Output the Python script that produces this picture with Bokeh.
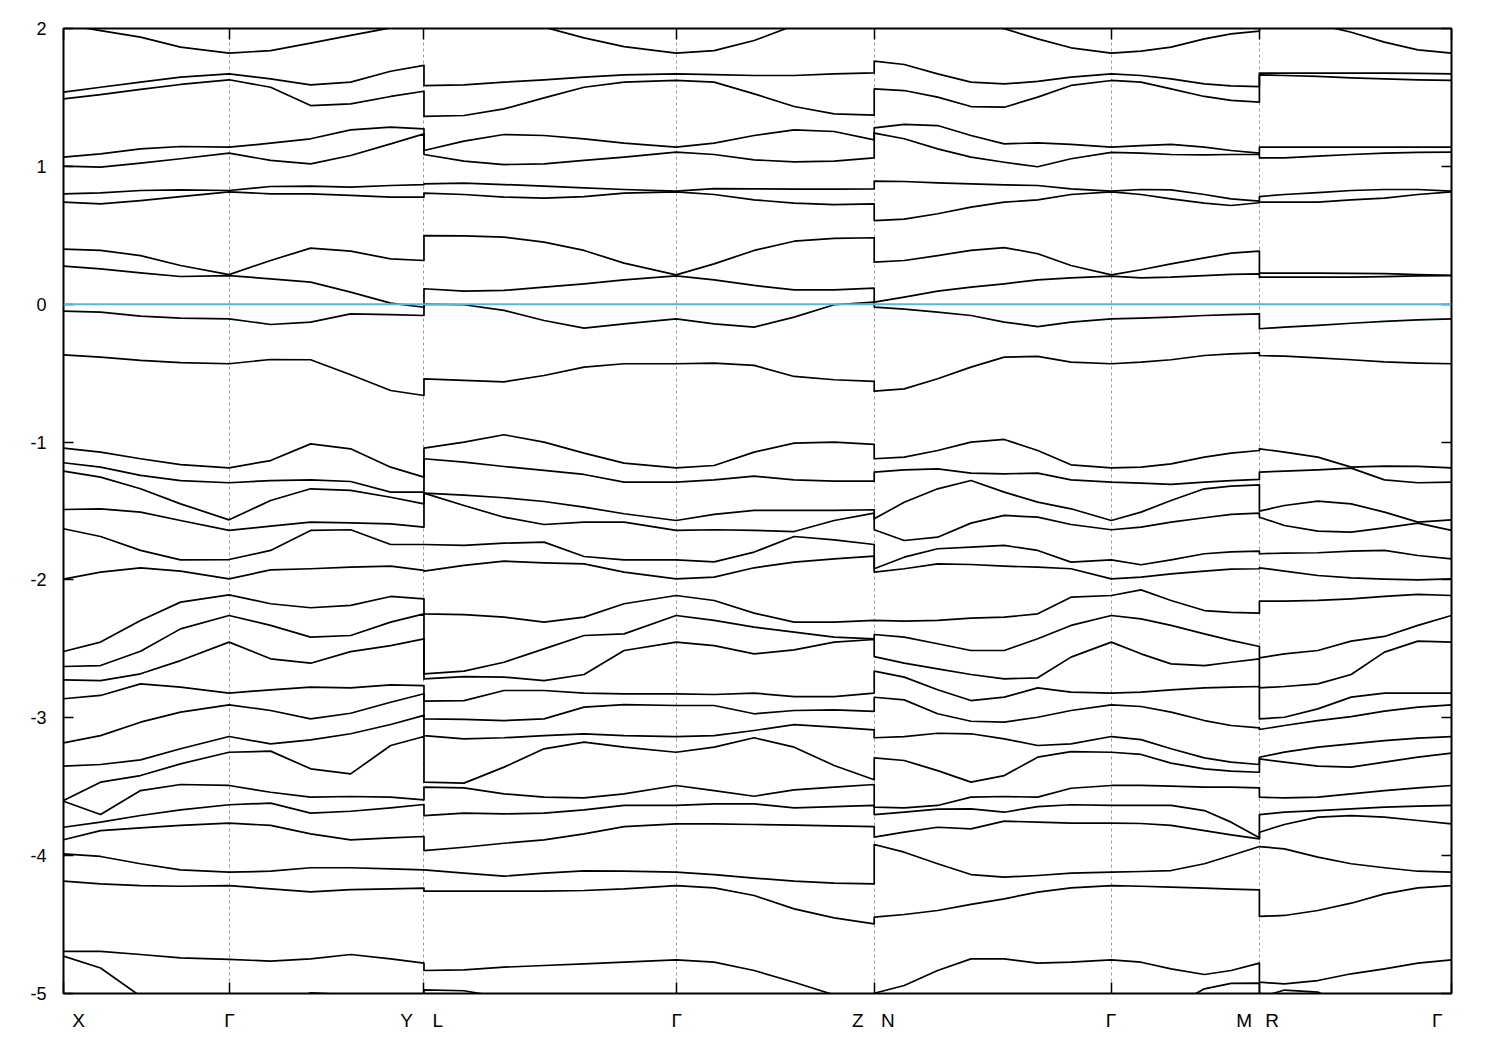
from bokeh.plotting import figure
from bokeh.models import Range1d, LinearAxis, FixedTicker, Grid, Span
from bokeh.embed import file_html
from bokeh.resources import INLINE

# ---- k-path ----
kpoints = [0, 165.5, 360.3, 612.3, 810.3, 1047.3, 1195.3, 1387.3]
klabel_names = ["X", "Γ", "Y", "L", "Γ", "Z", "N", "Γ", "M", "R", "Γ"]
klabel_pos = [15, 166, 343, 374, 613, 794, 824, 1047, 1180, 1208, 1373]
yticks = [-5, -4, -3, -2, -1, 0, 1, 2]
ytick_labels = ["-5", "-4", "-3", "-2", "-1", "0", "1", "2"]
fermi = 0.0

# ---- sample positions along each segment ----
x_XGY = [0, 37, 77, 117, 165.5, 207, 247, 287, 327, 360.3]
x_LGZ = [360.3, 400.3, 440.3, 480.3, 520.3, 560.3, 612.3, 650.3, 690.3, 730.3, 770.3, 810.3]
x_NGM = [810.3, 840.3, 873.7, 907, 940.3, 973.7, 1007, 1047.3, 1077, 1107, 1140.3, 1167, 1195.3]
x_RG = [1195.3, 1220.3, 1253.7, 1287, 1320.3, 1353.7, 1387.3]

# ---- band energies (eV), band index from top ----
bands_XGY = [
    [2.03, 1.985, 1.937, 1.865, 1.821, 1.84, 1.894, 1.95, 2.005, 2.05],
    [1.538, 1.574, 1.611, 1.647, 1.671, 1.635, 1.591, 1.611, 1.69, 1.732],
    [1.49, 1.521, 1.558, 1.594, 1.628, 1.574, 1.441, 1.453, 1.507, 1.545],
    [1.067, 1.091, 1.127, 1.144, 1.139, 1.168, 1.2, 1.265, 1.284, 1.272],
    [1.001, 0.994, 1.023, 1.055, 1.096, 1.043, 1.018, 1.079, 1.163, 1.236],
    [0.801, 0.808, 0.825, 0.83, 0.825, 0.854, 0.856, 0.849, 0.861, 0.868],
    [0.74, 0.728, 0.752, 0.781, 0.815, 0.801, 0.801, 0.789, 0.777, 0.777],
    [0.399, 0.39, 0.353, 0.281, 0.215, 0.317, 0.407, 0.385, 0.329, 0.317],
    [0.276, 0.257, 0.228, 0.201, 0.208, 0.184, 0.16, 0.088, 0.008, -0.022],
    [-0.05, -0.058, -0.087, -0.101, -0.106, -0.147, -0.13, -0.07, -0.075, -0.082],
    [-0.367, -0.384, -0.408, -0.423, -0.432, -0.401, -0.403, -0.512, -0.626, -0.662],
    [-1.044, -1.073, -1.121, -1.163, -1.187, -1.134, -1.013, -1.049, -1.182, -1.254],
    [-1.15, -1.182, -1.242, -1.279, -1.295, -1.279, -1.274, -1.286, -1.363, -1.363],
    [-1.211, -1.254, -1.339, -1.448, -1.564, -1.424, -1.339, -1.351, -1.4, -1.448],
    [-1.489, -1.484, -1.508, -1.569, -1.641, -1.61, -1.581, -1.586, -1.593, -1.617],
    [-1.629, -1.685, -1.786, -1.854, -1.852, -1.786, -1.641, -1.636, -1.743, -1.743],
    [-1.994, -1.943, -1.912, -1.936, -1.992, -1.927, -1.919, -1.907, -1.9, -1.931],
    [-2.519, -2.451, -2.294, -2.161, -2.108, -2.173, -2.202, -2.185, -2.12, -2.137],
    [-2.628, -2.621, -2.517, -2.355, -2.258, -2.33, -2.415, -2.403, -2.306, -2.246],
    [-2.725, -2.73, -2.681, -2.585, -2.451, -2.572, -2.604, -2.52, -2.476, -2.427],
    [-2.862, -2.838, -2.754, -2.778, -2.821, -2.797, -2.778, -2.783, -2.761, -2.766],
    [-3.182, -3.129, -3.032, -2.959, -2.906, -2.947, -3.008, -2.967, -2.887, -2.826],
    [-3.351, -3.339, -3.305, -3.225, -3.136, -3.189, -3.16, -3.116, -3.049, -2.983],
    [-3.6, -3.467, -3.419, -3.334, -3.25, -3.242, -3.37, -3.407, -3.201, -3.136],
    [-3.605, -3.702, -3.528, -3.484, -3.491, -3.54, -3.576, -3.571, -3.576, -3.595],
    [-3.794, -3.757, -3.709, -3.668, -3.631, -3.619, -3.692, -3.678, -3.653, -3.629],
    [-3.885, -3.818, -3.798, -3.781, -3.764, -3.781, -3.842, -3.885, -3.871, -3.861],
    [-3.987, -4.006, -4.059, -4.103, -4.12, -4.113, -4.088, -4.088, -4.096, -4.103],
    [-4.185, -4.205, -4.217, -4.222, -4.217, -4.241, -4.263, -4.246, -4.241, -4.236],
    [-4.695, -4.695, -4.717, -4.741, -4.753, -4.765, -4.749, -4.717, -4.749, -4.78],
    [-4.729, -4.815, -5.02, -5.1, -5.15, -5.1, -4.995, -5.01, -5.05, -5.03],
]

bands_LGZ = [
    [2.15, 2.1, 2.06, 2.01, 1.932, 1.869, 1.821, 1.84, 1.913, 2.022, 2.07, 2.1],
    [1.586, 1.591, 1.611, 1.628, 1.647, 1.664, 1.671, 1.666, 1.659, 1.659, 1.671, 1.678],
    [1.362, 1.369, 1.417, 1.497, 1.574, 1.611, 1.623, 1.611, 1.526, 1.434, 1.381, 1.371],
    [1.115, 1.183, 1.231, 1.224, 1.2, 1.168, 1.139, 1.168, 1.224, 1.265, 1.253, 1.192],
    [1.086, 1.038, 1.013, 1.018, 1.043, 1.067, 1.103, 1.086, 1.047, 1.033, 1.038, 1.062],
    [0.873, 0.878, 0.868, 0.856, 0.844, 0.832, 0.82, 0.839, 0.837, 0.835, 0.835, 0.837],
    [0.806, 0.796, 0.777, 0.769, 0.781, 0.806, 0.815, 0.796, 0.757, 0.733, 0.723, 0.728],
    [0.498, 0.496, 0.487, 0.45, 0.39, 0.298, 0.213, 0.293, 0.39, 0.457, 0.477, 0.482],
    [0.112, 0.095, 0.1, 0.124, 0.148, 0.177, 0.205, 0.177, 0.136, 0.104, 0.104, 0.117],
    [0.0, -0.004, -0.045, -0.118, -0.174, -0.142, -0.106, -0.142, -0.166, -0.094, -0.004, 0.015],
    [-0.541, -0.553, -0.563, -0.517, -0.456, -0.432, -0.432, -0.428, -0.444, -0.524, -0.548, -0.56],
    [-1.044, -1.0, -0.947, -1.0, -1.08, -1.153, -1.187, -1.17, -1.073, -1.008, -1.0, -1.017],
    [-1.121, -1.146, -1.177, -1.206, -1.235, -1.291, -1.291, -1.274, -1.247, -1.274, -1.283, -1.283],
    [-1.37, -1.385, -1.404, -1.431, -1.472, -1.52, -1.569, -1.525, -1.496, -1.496, -1.496, -1.491],
    [-1.37, -1.46, -1.545, -1.598, -1.581, -1.581, -1.641, -1.636, -1.641, -1.649, -1.569, -1.516],
    [-1.743, -1.75, -1.733, -1.726, -1.83, -1.854, -1.854, -1.869, -1.798, -1.685, -1.709, -1.743],
    [-1.936, -1.895, -1.864, -1.876, -1.883, -1.943, -1.992, -1.98, -1.912, -1.871, -1.847, -1.827],
    [-2.246, -2.251, -2.27, -2.306, -2.27, -2.173, -2.113, -2.149, -2.241, -2.306, -2.306, -2.294],
    [-2.681, -2.662, -2.597, -2.5, -2.403, -2.391, -2.258, -2.294, -2.342, -2.379, -2.415, -2.427],
    [-2.718, -2.701, -2.705, -2.73, -2.686, -2.512, -2.451, -2.476, -2.536, -2.507, -2.451, -2.432],
    [-2.879, -2.875, -2.802, -2.802, -2.821, -2.826, -2.826, -2.831, -2.821, -2.846, -2.846, -2.821],
    [-3.008, -3.012, -3.02, -3.008, -2.923, -2.904, -2.911, -2.911, -2.971, -2.947, -2.942, -2.954],
    [-3.129, -3.153, -3.145, -3.129, -3.116, -3.129, -3.136, -3.129, -3.092, -3.049, -3.068, -3.087],
    [-3.467, -3.474, -3.358, -3.225, -3.177, -3.213, -3.25, -3.213, -3.145, -3.213, -3.346, -3.45],
    [-3.503, -3.508, -3.552, -3.576, -3.581, -3.552, -3.491, -3.528, -3.569, -3.523, -3.503, -3.484],
    [-3.709, -3.692, -3.697, -3.692, -3.668, -3.636, -3.636, -3.624, -3.624, -3.653, -3.644, -3.636],
    [-3.963, -3.939, -3.91, -3.886, -3.842, -3.789, -3.769, -3.769, -3.774, -3.779, -3.784, -3.789],
    [-4.103, -4.127, -4.149, -4.127, -4.11, -4.113, -4.12, -4.137, -4.163, -4.185, -4.2, -4.205],
    [-4.258, -4.258, -4.258, -4.258, -4.253, -4.241, -4.217, -4.234, -4.289, -4.386, -4.451, -4.495],
    [-4.833, -4.828, -4.809, -4.797, -4.785, -4.773, -4.756, -4.773, -4.833, -4.918, -5.01, -5.04],
    [-4.973, -4.98, -5.03, -5.1, -5.1, -5.1, -5.1, -5.1, -5.1, -5.1, -5.1, -5.1],
]

bands_NGM = [
    [2.15, 2.1, 2.07, 2.04, 1.998, 1.925, 1.86, 1.821, 1.836, 1.865, 1.925, 1.961, 1.981],
    [1.763, 1.739, 1.671, 1.611, 1.598, 1.616, 1.647, 1.671, 1.659, 1.635, 1.598, 1.584, 1.579],
    [1.562, 1.55, 1.502, 1.434, 1.429, 1.502, 1.587, 1.623, 1.611, 1.562, 1.507, 1.478, 1.466],
    [1.279, 1.304, 1.296, 1.224, 1.163, 1.171, 1.159, 1.139, 1.151, 1.159, 1.139, 1.115, 1.096],
    [1.241, 1.2, 1.127, 1.067, 1.03, 0.997, 1.055, 1.101, 1.096, 1.086, 1.084, 1.086, 1.086],
    [0.893, 0.89, 0.88, 0.873, 0.866, 0.861, 0.837, 0.82, 0.832, 0.83, 0.796, 0.764, 0.748],
    [0.607, 0.617, 0.656, 0.704, 0.74, 0.757, 0.796, 0.815, 0.796, 0.764, 0.733, 0.716, 0.736],
    [0.305, 0.317, 0.353, 0.39, 0.411, 0.366, 0.281, 0.213, 0.25, 0.293, 0.336, 0.37, 0.385],
    [0.015, 0.051, 0.095, 0.124, 0.148, 0.177, 0.191, 0.204, 0.191, 0.196, 0.208, 0.216, 0.22],
    [-0.021, -0.036, -0.058, -0.082, -0.13, -0.162, -0.13, -0.106, -0.101, -0.094, -0.082, -0.075, -0.07],
    [-0.631, -0.614, -0.541, -0.456, -0.384, -0.379, -0.42, -0.432, -0.42, -0.403, -0.372, -0.36, -0.353],
    [-1.121, -1.109, -1.061, -1.0, -0.981, -1.061, -1.165, -1.187, -1.182, -1.158, -1.109, -1.08, -1.061],
    [-1.218, -1.201, -1.194, -1.225, -1.23, -1.225, -1.274, -1.291, -1.298, -1.307, -1.291, -1.279, -1.271],
    [-1.557, -1.436, -1.339, -1.279, -1.363, -1.436, -1.484, -1.569, -1.508, -1.424, -1.339, -1.32, -1.31],
    [-1.636, -1.714, -1.69, -1.588, -1.532, -1.545, -1.598, -1.636, -1.617, -1.581, -1.549, -1.525, -1.516],
    [-1.919, -1.835, -1.774, -1.762, -1.75, -1.786, -1.871, -1.854, -1.89, -1.854, -1.81, -1.796, -1.791],
    [-1.943, -1.919, -1.883, -1.888, -1.9, -1.907, -1.919, -1.992, -1.98, -1.956, -1.936, -1.922, -1.919],
    [-2.294, -2.299, -2.294, -2.277, -2.27, -2.246, -2.125, -2.113, -2.072, -2.149, -2.222, -2.236, -2.241],
    [-2.396, -2.415, -2.463, -2.512, -2.512, -2.427, -2.33, -2.258, -2.282, -2.33, -2.391, -2.439, -2.483],
    [-2.556, -2.604, -2.645, -2.686, -2.718, -2.71, -2.56, -2.451, -2.536, -2.609, -2.621, -2.597, -2.572],
    [-2.662, -2.705, -2.797, -2.875, -2.85, -2.783, -2.814, -2.821, -2.814, -2.797, -2.783, -2.778, -2.773],
    [-2.851, -2.87, -2.971, -3.025, -3.032, -2.996, -2.947, -2.906, -2.918, -2.959, -3.02, -3.056, -3.073],
    [-3.145, -3.136, -3.112, -3.116, -3.153, -3.201, -3.189, -3.136, -3.158, -3.225, -3.291, -3.322, -3.339],
    [-3.291, -3.31, -3.383, -3.467, -3.419, -3.286, -3.245, -3.25, -3.266, -3.329, -3.37, -3.387, -3.395],
    [-3.648, -3.653, -3.636, -3.576, -3.571, -3.576, -3.511, -3.491, -3.491, -3.496, -3.503, -3.503, -3.508],
    [-3.702, -3.685, -3.663, -3.661, -3.685, -3.644, -3.631, -3.636, -3.636, -3.636, -3.673, -3.757, -3.871],
    [-3.866, -3.83, -3.794, -3.806, -3.75, -3.757, -3.764, -3.764, -3.767, -3.781, -3.818, -3.849, -3.878],
    [-3.919, -3.975, -4.059, -4.137, -4.156, -4.144, -4.127, -4.12, -4.115, -4.108, -4.059, -3.999, -3.934],
    [-4.446, -4.427, -4.398, -4.354, -4.313, -4.265, -4.234, -4.217, -4.222, -4.229, -4.236, -4.243, -4.248],
    [-4.998, -4.942, -4.833, -4.749, -4.749, -4.78, -4.773, -4.756, -4.773, -4.821, -4.862, -4.833, -4.78],
    [-5.05, -5.1, -5.1, -5.1, -5.1, -5.1, -5.1, -5.1, -5.1, -5.1, -4.966, -4.927, -4.925],
]

bands_RG = [
    [2.2, 2.1, 2.03, 1.973, 1.901, 1.845, 1.821],
    [1.676, 1.676, 1.676, 1.676, 1.676, 1.674, 1.671],
    [1.664, 1.659, 1.652, 1.642, 1.635, 1.628, 1.623],
    [1.139, 1.139, 1.139, 1.139, 1.139, 1.139, 1.139],
    [1.062, 1.062, 1.074, 1.086, 1.096, 1.101, 1.103],
    [0.781, 0.796, 0.81, 0.825, 0.832, 0.832, 0.82],
    [0.74, 0.74, 0.74, 0.757, 0.769, 0.796, 0.815],
    [0.225, 0.225, 0.225, 0.224, 0.222, 0.215, 0.21],
    [0.196, 0.196, 0.196, 0.196, 0.2, 0.205, 0.207],
    [-0.178, -0.166, -0.154, -0.138, -0.125, -0.113, -0.106],
    [-0.372, -0.377, -0.389, -0.403, -0.418, -0.427, -0.432],
    [-1.049, -1.073, -1.109, -1.182, -1.175, -1.177, -1.187],
    [-1.218, -1.211, -1.201, -1.189, -1.274, -1.295, -1.291],
    [-1.501, -1.46, -1.428, -1.448, -1.508, -1.581, -1.564],
    [-1.545, -1.605, -1.646, -1.653, -1.622, -1.588, -1.641],
    [-1.81, -1.806, -1.803, -1.791, -1.786, -1.823, -1.847],
    [-1.912, -1.936, -1.968, -1.985, -1.994, -1.999, -1.992],
    [-2.154, -2.154, -2.149, -2.137, -2.12, -2.105, -2.113],
    [-2.565, -2.536, -2.512, -2.444, -2.41, -2.33, -2.258],
    [-2.783, -2.773, -2.754, -2.686, -2.524, -2.444, -2.451],
    [-3.008, -2.996, -2.935, -2.85, -2.821, -2.821, -2.821],
    [-3.085, -3.056, -3.02, -2.991, -2.952, -2.923, -2.906],
    [-3.286, -3.249, -3.213, -3.189, -3.165, -3.148, -3.136],
    [-3.298, -3.322, -3.351, -3.358, -3.322, -3.286, -3.257],
    [-3.576, -3.581, -3.576, -3.552, -3.528, -3.508, -3.491],
    [-3.702, -3.685, -3.673, -3.661, -3.648, -3.641, -3.636],
    [-3.83, -3.774, -3.721, -3.709, -3.721, -3.745, -3.769],
    [-3.934, -3.951, -4.011, -4.059, -4.088, -4.113, -4.12],
    [-4.441, -4.434, -4.398, -4.345, -4.277, -4.234, -4.217],
    [-4.918, -4.93, -4.906, -4.857, -4.821, -4.78, -4.756],
    [-5.03, -4.975, -4.99, -5.1, -5.15, -5.15, -5.15],
]

FONT = "Liberation Sans"

p = figure(frame_width=1388, frame_height=965,
           x_range=Range1d(kpoints[0], kpoints[-1]), y_range=Range1d(-5, 2),
           x_axis_type=None, y_axis_type=None,
           output_backend="svg", toolbar_location=None,
           min_border_left=63, min_border_top=28, min_border_right=30, min_border_bottom=10,
           background_fill_color="white", border_fill_color="white")
p.outline_line_color = "black"
p.outline_line_width = 2

# vertical dashed lines at high-symmetry points
grid = Grid(dimension=0, ticker=FixedTicker(ticks=kpoints[1:-1]),
            grid_line_color="#9a9a9a", grid_line_dash="3 3", grid_line_width=1)
p.add_layout(grid, "center")

# bands: each band is one continuous path along the whole k-path
xs_all = x_XGY + x_LGZ + x_NGM + x_RG
xs, ys = [], []
for b1, b2, b3, b4 in zip(bands_XGY, bands_LGZ, bands_NGM, bands_RG):
    xs.append(xs_all)
    ys.append(b1 + b2 + b3 + b4)
p.multi_line(xs=xs, ys=ys, line_color="black", line_width=1.7, line_join="round")

# Fermi level
p.add_layout(Span(location=fermi, dimension="width", line_color="#56b4e9", line_width=2))

def tick_only_axis(ticker, tick_len):
    return LinearAxis(ticker=ticker, major_tick_in=tick_len, major_tick_out=0,
                      minor_tick_in=0, minor_tick_out=0, axis_line_color=None,
                      major_tick_line_color="black", major_tick_line_width=1.5,
                      major_label_text_color=None, major_label_text_font_size="0px",
                      major_label_standoff=0)

yax = LinearAxis(ticker=FixedTicker(ticks=yticks), major_tick_in=10, major_tick_out=0,
                 minor_tick_in=0, minor_tick_out=0, axis_line_color=None,
                 major_tick_line_color="black", major_tick_line_width=1.5,
                 major_label_standoff=17, major_label_text_font=FONT,
                 major_label_text_font_size="18px", major_label_text_color="black",
                 major_label_overrides={t: s for t, s in zip(yticks, ytick_labels)})
p.add_layout(yax, "left")
p.add_layout(tick_only_axis(FixedTicker(ticks=yticks), 10), "right")
p.add_layout(tick_only_axis(FixedTicker(ticks=kpoints), 11), "above")
p.add_layout(tick_only_axis(FixedTicker(ticks=kpoints), 11), "below")

# high-symmetry point names
xlab = LinearAxis(ticker=FixedTicker(ticks=klabel_pos), major_tick_in=0, major_tick_out=0,
                  minor_tick_in=0, minor_tick_out=0, axis_line_color=None,
                  major_label_standoff=16, major_label_text_font=FONT,
                  major_label_text_font_size="19px", major_label_text_color="black",
                  major_label_overrides={t: s for t, s in zip(klabel_pos, klabel_names)})
p.add_layout(xlab, "below")

open("out.html", "w").write(file_html(p, INLINE))
